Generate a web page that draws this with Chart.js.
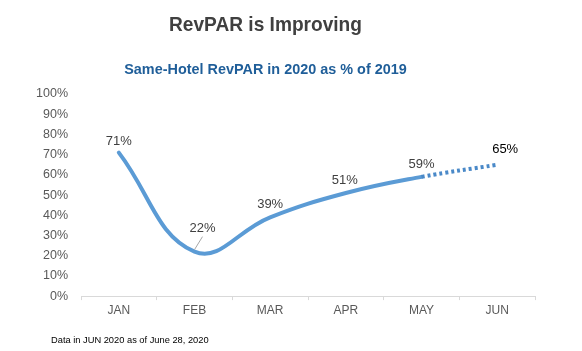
<!DOCTYPE html>
<html>
<head>
<meta charset="utf-8">
<script src="https://cdn.jsdelivr.net/npm/chart.js@4.4.1/dist/chart.umd.min.js"></script>
<style>
  html, body { margin: 0; padding: 0; background: #fff; }
  #wrap { position: relative; width: 582px; height: 351px; overflow: hidden; font-family: "Liberation Sans", Arial, sans-serif; }
  #c { position: absolute; left: 0; top: 0; }
  .t { position: absolute; white-space: nowrap; transform-origin: center center; }
  #title { left: 0; width: 531px; text-align: center; top: 12px; font-size: 21px; font-weight: bold; color: #404040; transform: scaleX(0.91); }
  #subtitle { left: 0; width: 531px; text-align: center; top: 60px; font-size: 15.5px; font-weight: bold; color: #1f5e99; transform: scaleX(0.93); }
  #note { left: 51px; top: 335px; font-size: 9.3px; color: #000; }
</style>
</head>
<body>
<div id="wrap">
  <canvas id="c" width="582" height="351"></canvas>
  <div id="title" class="t">RevPAR is Improving</div>
  <div id="subtitle" class="t">Same-Hotel RevPAR in 2020 as % of 2019</div>
  <div id="note" class="t">Data in JUN 2020 as of June 28, 2020</div>
</div>
<script>
// ---- data ----
const months = ["JAN", "FEB", "MAR", "APR", "MAY", "JUN"];
const revparPct = [71, 22, 39, 51, 59, 65];
const valueLabels = ["71%", "22%", "39%", "51%", "59%", "65%"];
const yTicks = [0, 10, 20, 30, 40, 50, 60, 70, 80, 90, 100];
const estimatedFrom = 4; // segment from MAY to JUN drawn dotted

// ---- label styling (offsets in px relative to each point) ----
const labelOffsets = [[0, -11], [8, -23], [0, -12.5], [-1, -13], [0, -12.5], [8, -15]];
const labelColors = ["#404040", "#404040", "#404040", "#404040", "#404040", "#000000"];

const labelPlugin = {
  id: 'pointLabels',
  afterDatasetsDraw(chart) {
    const ctx = chart.ctx;
    const meta = chart.getDatasetMeta(0);
    ctx.save();
    ctx.font = '13px "Liberation Sans", Arial, sans-serif';
    ctx.textAlign = 'center';
    ctx.textBaseline = 'middle';
    meta.data.forEach((pt, i) => {
      const [dx, dy] = labelOffsets[i];
      const lx = pt.x + dx, ly = pt.y + dy;
      ctx.fillStyle = labelColors[i];
      ctx.fillText(valueLabels[i], lx, ly);
      if (i === 1) {
        ctx.strokeStyle = '#a6a6a6';
        ctx.lineWidth = 1;
        ctx.beginPath();
        ctx.moveTo(lx, ly + 8);
        ctx.lineTo(pt.x, pt.y - 2);
        ctx.stroke();
      }
    });
    ctx.restore();
  }
};

new Chart(document.getElementById('c'), {
  type: 'line',
  data: {
    labels: months,
    datasets: [{
      data: revparPct,
      borderColor: '#5b9bd5',
      borderWidth: 4,
      tension: 0.42,
      pointRadius: 0,
      fill: false,
      borderCapStyle: 'round',
      segment: {
        borderDash: c => c.p0DataIndex >= estimatedFrom ? [3, 3] : undefined,
        borderColor: c => c.p0DataIndex >= estimatedFrom ? '#4a89c8' : undefined,
        borderCapStyle: c => c.p0DataIndex >= estimatedFrom ? 'butt' : undefined
      }
    }]
  },
  options: {
    responsive: false,
    animation: false,
    devicePixelRatio: 1,
    layout: { padding: { left: 31, right: 47, top: 94, bottom: 30.5 } },
    plugins: { legend: { display: false }, tooltip: { enabled: false }, title: { display: false } },
    scales: {
      x: {
        offset: true,
        grid: { offset: true, drawOnChartArea: false, drawTicks: true, tickLength: 4, color: '#d9d9d9' },
        border: { display: true, color: '#d9d9d9', width: 1 },
        ticks: { color: '#595959', font: { family: '"Liberation Sans", Arial, sans-serif', size: 12 }, padding: 3, maxRotation: 0 }
      },
      y: {
        min: 0, max: 100,
        afterFit(scale) { scale.width = 50; },
        afterBuildTicks(scale) { scale.ticks = yTicks.map(v => ({ value: v })); },
        grid: { display: false, drawTicks: false },
        border: { display: false },
        ticks: { color: '#595959', padding: 13, font: { family: '"Liberation Sans", Arial, sans-serif', size: 12.5 }, callback: v => v + '%' }
      }
    }
  },
  plugins: [labelPlugin]
});
</script>
</body>
</html>
